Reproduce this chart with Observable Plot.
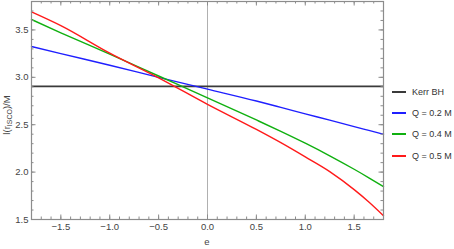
<!DOCTYPE html>
<html>
<head>
<meta charset="utf-8">
<script src="https://cdn.jsdelivr.net/npm/d3@7"></script>
<script src="https://cdn.jsdelivr.net/npm/@observablehq/plot@0.6"></script>
<style>
  html, body { margin: 0; padding: 0; background: #fff; }
  #wrap { position: relative; width: 454px; height: 249px; font-family: "Liberation Sans", Arial, sans-serif; }
  #legend { position: absolute; left: 392px; top: 81px; font-size: 9px; color: #333; }
  .item { display: flex; align-items: center; height: 21.3px; }
  .swatch { display: inline-block; width: 14px; height: 2px; margin-right: 6px; }
</style>
</head>
<body>
<div id="wrap"></div>
<script>
// ---- data ----
const eValues = [-1.8, -1.5, -1.0, -0.5, 0, 0.5, 0.75, 1.0, 1.25, 1.5, 1.65, 1.8];
const kerrValue = [2.905];
const q02 = [3.325, 3.25, 3.128, 3.0, 2.875, 2.75, 2.683, 2.615, 2.548, 2.48, 2.44, 2.40];
const q04 = [3.61, 3.47, 3.244, 3.014, 2.784, 2.55, 2.43, 2.305, 2.172, 2.03, 1.94, 1.847];
const q05 = [3.69, 3.545, 3.255, 2.995, 2.715, 2.45, 2.31, 2.16, 2.005, 1.815, 1.685, 1.54];
const seriesNames = ["Kerr BH", "Q = 0.2 M", "Q = 0.4 M", "Q = 0.5 M"];
const seriesColors = ["#3a3a3a", "#1f1fff", "#10b010", "#ff1a1a"];
const originLine = [0];
const xMajorTicks = [-1.5, -1.0, -0.5, 0.0, 0.5, 1.0, 1.5];
const yMajorTicks = [1.5, 2.0, 2.5, 3.0, 3.5];
const xMinorTicks = d3.range(-18, 19).map(d => d / 10);
const yMinorTicks = d3.range(15, 39).map(d => d / 10);

const rows = [];
[q02, q04, q05].forEach((arr, s) => {
  arr.forEach((v, i) => rows.push({e: eValues[i], v, series: seriesNames[s + 1]}));
});

const W = 454, H = 249, mt = 1, mb = 30, ml = 31, mr = 71;
const innerH = H - mt - mb, innerW = W - ml - mr;
const tickColor = "#8c8c8c";
const majorLen = 4.5, minorLen = 2.5;

const plot = Plot.plot({
  width: W, height: H,
  marginTop: mt, marginBottom: mb, marginLeft: ml, marginRight: mr,
  style: {fontFamily: "Liberation Sans, Arial, sans-serif", fontSize: "9.5px", color: "#444", background: "white"},
  x: {domain: [-1.8, 1.8]},
  y: {domain: [1.5, 3.8]},
  color: {domain: seriesNames, range: seriesColors},
  marks: [
    Plot.ruleX(originLine, {stroke: "#b0b0b0", strokeWidth: 1}),
    Plot.ruleY(kerrValue, {stroke: seriesColors[0], strokeWidth: 1.6}),
    Plot.line(rows, {x: "e", y: "v", z: "series", stroke: "series", strokeWidth: 1.4, curve: "monotone-x"}),
    // inward ticks on all four sides
    Plot.gridX({ticks: xMajorTicks, stroke: tickColor, strokeOpacity: 1, insetTop: innerH - majorLen}),
    Plot.gridX({ticks: xMajorTicks, stroke: tickColor, strokeOpacity: 1, insetBottom: innerH - majorLen}),
    Plot.gridX({ticks: xMinorTicks, stroke: tickColor, strokeOpacity: 1, insetTop: innerH - minorLen}),
    Plot.gridX({ticks: xMinorTicks, stroke: tickColor, strokeOpacity: 1, insetBottom: innerH - minorLen}),
    Plot.gridY({ticks: yMajorTicks, stroke: tickColor, strokeOpacity: 1, insetRight: innerW - majorLen}),
    Plot.gridY({ticks: yMajorTicks, stroke: tickColor, strokeOpacity: 1, insetLeft: innerW - majorLen}),
    Plot.gridY({ticks: yMinorTicks, stroke: tickColor, strokeOpacity: 1, insetRight: innerW - minorLen}),
    Plot.gridY({ticks: yMinorTicks, stroke: tickColor, strokeOpacity: 1, insetLeft: innerW - minorLen}),
    Plot.axisX({ticks: xMajorTicks, tickSize: 0, tickPadding: 4, tickFormat: d3.format(".1f"), label: null}),
    Plot.axisY({ticks: yMajorTicks, tickSize: 0, tickPadding: 3, tickFormat: d3.format(".1f"), label: null}),
    Plot.frame({stroke: "#8c8c8c", strokeWidth: 1.2})
  ]
});

const wrap = document.getElementById("wrap");
wrap.appendChild(plot);

// axis labels as real SVG text
const svg = d3.select(plot);
svg.append("text")
  .attr("x", ml + innerW * (0 - -1.8) / 3.6).attr("y", 245)
  .attr("text-anchor", "middle").attr("fill", "#444").style("font-size", "9.5px")
  .text("e");
const yl = svg.append("text")
  .attr("transform", `translate(10,${mt + innerH / 2 + 5}) rotate(-90)`)
  .attr("text-anchor", "middle").attr("fill", "#444").style("font-size", "9.5px");
yl.append("tspan").text("l(r");
yl.append("tspan").attr("dy", 2).style("font-size", "7px").text("ISCO");
yl.append("tspan").attr("dy", -2).text(")/M");

// legend
const legend = document.createElement("div");
legend.id = "legend";
seriesNames.forEach((name, i) => {
  const item = document.createElement("div");
  item.className = "item";
  const sw = document.createElement("span");
  sw.className = "swatch";
  sw.style.backgroundColor = seriesColors[i];
  const label = document.createElement("span");
  label.textContent = name;
  item.appendChild(sw); item.appendChild(label);
  legend.appendChild(item);
});
wrap.appendChild(legend);
</script>
</body>
</html>
